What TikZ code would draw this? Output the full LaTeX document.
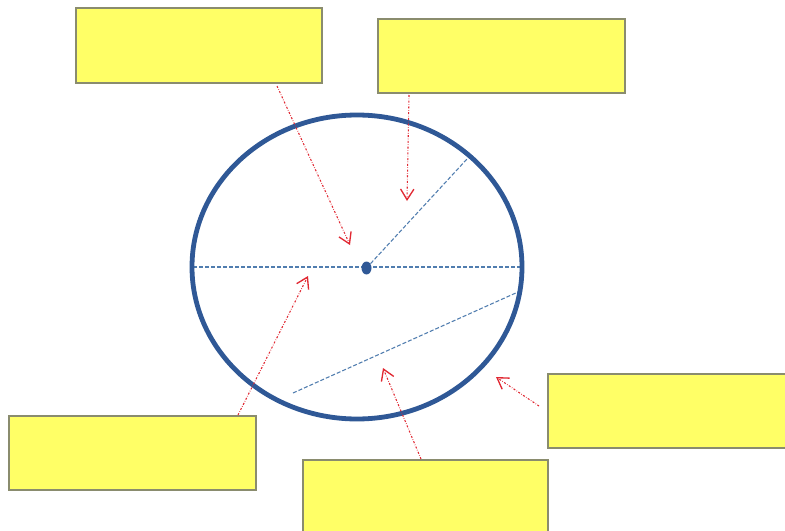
\documentclass[tikz,border=0pt]{standalone}
\usetikzlibrary{arrows.meta}
\definecolor{boxfill}{RGB}{255,255,102}
\definecolor{boxedge}{RGB}{138,140,110}
\definecolor{ringblue}{RGB}{47,88,150}
\definecolor{lineblue}{RGB}{80,125,175}
\definecolor{arrowred}{RGB}{225,40,50}
\tikzset{
  labelbox/.style={draw=boxedge, fill=boxfill, line width=1.1pt, inner sep=0pt, rectangle},
  pointer/.style={draw=arrowred, line width=0.8pt, dash pattern=on 1.5pt off 1.2pt on 0.4pt off 1.2pt,
    -{Straight Barb[length=8pt,width=10pt,line width=1pt]}},
  guide/.style={draw=lineblue, line width=0.8pt, dash pattern=on 3pt off 1.5pt}
}
\begin{document}
\begin{tikzpicture}[x=0.75pt,y=-0.75pt]
\clip (0,0) rectangle (785,531);
\fill[white] (0,0) rectangle (785,531);
% label boxes
\node[labelbox, minimum width=184.5pt, minimum height=56pt] (A) at (199,45.5) {};
\node[labelbox, minimum width=185.25pt, minimum height=55.5pt] (B) at (501.5,56) {};
\node[labelbox, minimum width=210pt, minimum height=55.5pt] (C) at (688,411) {};
\node[labelbox, minimum width=185.25pt, minimum height=55.5pt] (D) at (132.5,453) {};
\node[labelbox, minimum width=183.75pt, minimum height=67.5pt] (E) at (425.5,505) {};
% circle
\coordinate (O) at (357,267);
\coordinate (P) at (366.5,268);
\coordinate (L) at (193,267);
\coordinate (R) at (522,267);
\coordinate (Rim) at (467,159);
\coordinate (Ch1) at (293,393);
\coordinate (Ch2) at (518,292);
\draw[guide] (L) -- (R);
\draw[guide] (P) -- (Rim);
\draw[guide] (Ch1) -- (Ch2);
\draw[ringblue, line width=3.6pt] (O) ellipse [x radius=165, y radius=152];
\fill[ringblue] (P) ellipse [x radius=5, y radius=6.5];
% pointers
\coordinate (a0) at (277,86);
\coordinate (a1) at (350,245);
\coordinate (b0) at (409,95);
\coordinate (b1) at (407,201);
\coordinate (d0) at (238,415);
\coordinate (d1) at (308,276);
\coordinate (e0) at (421,459);
\coordinate (e1) at (383,368);
\coordinate (c0) at (539,406);
\coordinate (c1) at (496,377);
\draw[pointer] (a0) -- (a1);
\draw[pointer] (b0) -- (b1);
\draw[pointer] (d0) -- (d1);
\draw[pointer] (e0) -- (e1);
\draw[pointer] (c0) -- (c1);
\end{tikzpicture}
\end{document}
